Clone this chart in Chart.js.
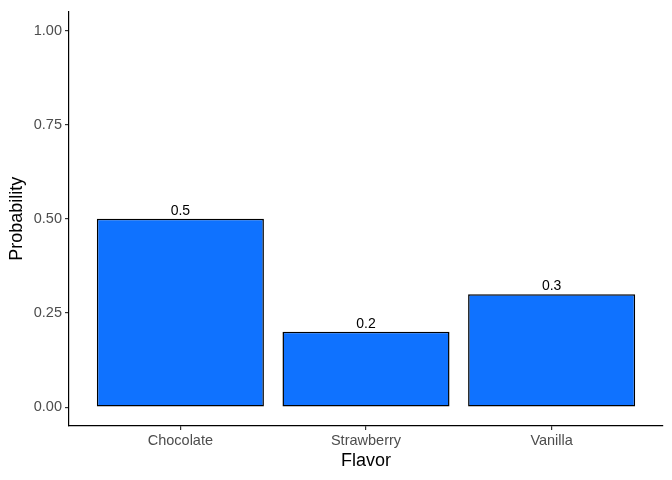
<!DOCTYPE html>
<html>
<head>
<meta charset="utf-8">
<script src="https://cdn.jsdelivr.net/npm/chart.js@4"></script>
<style>
  body { margin: 0; background: #fff; }
  #wrap { width: 672px; height: 480px; }
</style>
</head>
<body>
<div id="wrap"><canvas id="chart" width="672" height="480"></canvas></div>
<script>
// Data
const flavors = ['Chocolate', 'Strawberry', 'Vanilla'];
const probabilities = [0.5, 0.2, 0.3];
const yTicks = [0, 0.25, 0.5, 0.75, 1.0];

const barColor = '#0F72FF';
const font = 'Liberation Sans, Arial, Helvetica, sans-serif';

// Value labels on top of bars
const barLabels = {
  id: 'barLabels',
  afterDatasetsDraw(chart) {
    const ctx = chart.ctx;
    const meta = chart.getDatasetMeta(0);
    ctx.save();
    ctx.font = '14px ' + font;
    ctx.fillStyle = '#000';
    ctx.textAlign = 'center';
    ctx.textBaseline = 'bottom';
    meta.data.forEach((bar, i) => {
      ctx.fillText(String(probabilities[i]), bar.x, bar.y - 1);
    });
    ctx.restore();
  }
};

new Chart(document.getElementById('chart'), {
  type: 'bar',
  data: {
    datasets: [{
      data: flavors.map((f, i) => ({ x: i + 1, y: probabilities[i] })),
      backgroundColor: barColor,
      borderColor: '#000',
      borderWidth: 1.5,
      borderSkipped: false,
      barPercentage: 0.9,
      categoryPercentage: 1
    }]
  },
  options: {
    responsive: false,
    animation: false,
    layout: { padding: { top: 10, right: 9, left: 0, bottom: 0 } },
    plugins: {
      legend: { display: false },
      tooltip: { enabled: false }
    },
    scales: {
      x: {
        type: 'linear',
        min: 0.4,
        max: 3.6,
        offset: false,
        afterBuildTicks: scale => { scale.ticks = flavors.map((f, i) => ({ value: i + 1 })); },
        afterFit: scale => { scale.height = 54; },
        ticks: {
          callback: v => flavors[v - 1],
          color: '#4d4d4d',
          font: { family: font, size: 14.5 },
          padding: 2,
          maxRotation: 0
        },
        grid: { offset: false, drawOnChartArea: false, drawTicks: true, tickLength: 4, color: '#333', lineWidth: 1.2 },
        border: { display: true, color: '#000', width: 1.2 },
        title: {
          display: true,
          text: 'Flavor',
          color: '#000',
          font: { family: font, size: 18 },
          padding: { top: 0, bottom: 8 }
        }
      },
      y: {
        min: -0.05,
        max: 1.05,
        afterBuildTicks: scale => { scale.ticks = yTicks.map(v => ({ value: v })); },
        afterFit: scale => { scale.width = 69; },
        ticks: {
          callback: v => v.toFixed(2),
          color: '#4d4d4d',
          font: { family: font, size: 14.5 },
          padding: 3
        },
        grid: { drawOnChartArea: false, drawTicks: true, tickLength: 4, color: '#333', lineWidth: 1.2 },
        border: { display: true, color: '#000', width: 1.2 },
        title: {
          display: true,
          text: 'Probability',
          color: '#000',
          font: { family: font, size: 18 },
          padding: { top: 6, bottom: 0 }
        }
      }
    }
  },
  plugins: [barLabels]
});
</script>
</body>
</html>
